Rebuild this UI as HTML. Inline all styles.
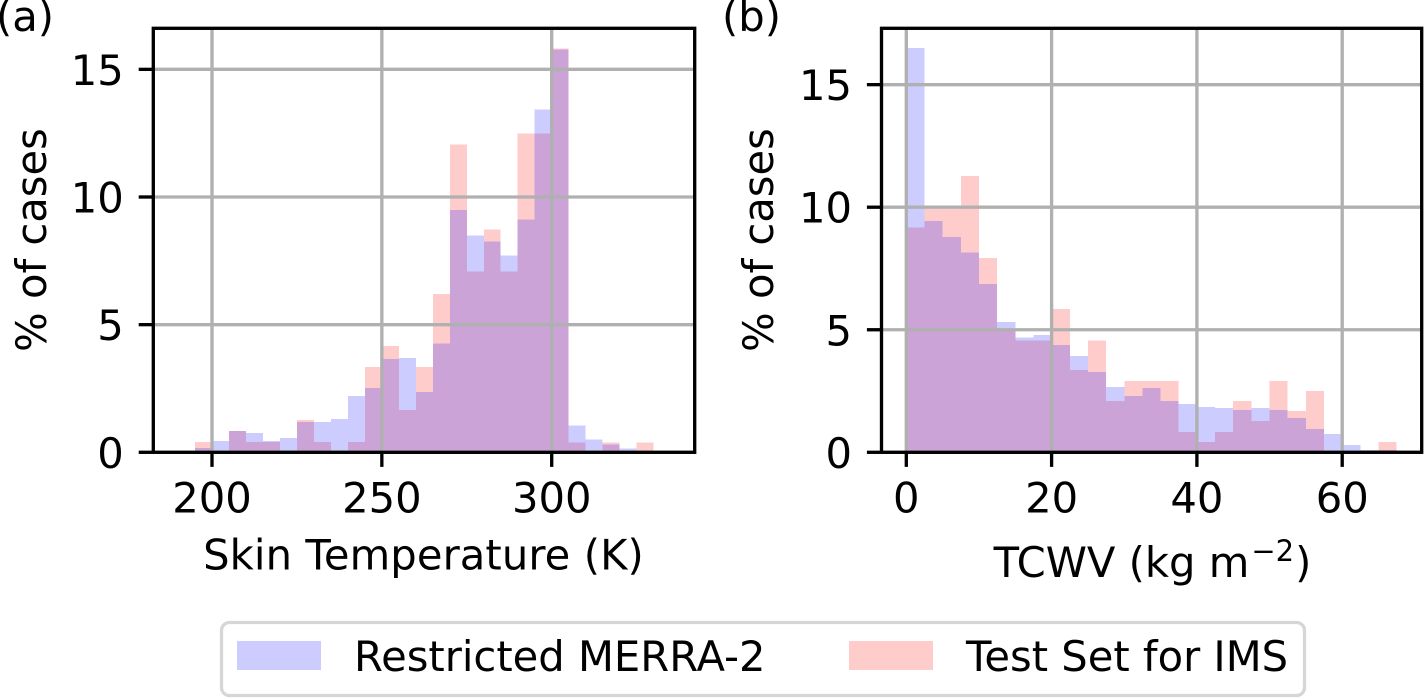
<!DOCTYPE html>
<html lang="en">
<head>
<meta charset="utf-8">
<title>Histograms of skin temperature and TCWV</title>
<style>
html,body{margin:0;padding:0;background:#fff;width:1424px;height:699px;overflow:hidden}
svg{display:block}
text{font-family:"DejaVu Sans","Liberation Sans",sans-serif;font-size:41.67px;fill:#000}
</style>
</head>
<body>
<svg id="chart" xmlns="http://www.w3.org/2000/svg" width="1424" height="699" viewBox="0 0 1424 699">
  <g id="panel-a"></g>
  <g id="panel-b"></g>
  <text x="-4" y="31">(a)</text>
  <text x="722" y="31">(b)</text>
  <text x="423.5" y="569.5" text-anchor="middle" letter-spacing="0.1">Skin Temperature (K)</text>
  <text x="1152.5" y="577" text-anchor="middle">TCWV (kg m<tspan dx="2" dy="-16" font-size="29">−2</tspan><tspan dx="1" dy="16">)</tspan></text>
  <text transform="translate(46,240) rotate(-90)" text-anchor="middle">% of cases</text>
  <text transform="translate(773,240) rotate(-90)" text-anchor="middle">% of cases</text>
  <g>
    <rect x="221.5" y="622.5" width="1083" height="73" rx="8" ry="8" fill="#fff" stroke="#d6d6d6" stroke-width="3.3"/>
    <rect x="237" y="641" width="84" height="29" fill="#ccccff"/>
    <text x="354" y="671">Restricted MERRA-2</text>
    <rect x="849" y="641" width="84" height="29" fill="#ffcccc"/>
    <text x="966" y="671">Test Set for IMS</text>
  </g>
</svg>
<script>
// Panel (a): skin temperature, % of cases per 5 K bin
const skinBinStart = 195;
const skinBinWidth = 5;
const skinMerra = [0.17,0.44,0.84,0.76,0.44,0.56,1.19,1.19,1.31,2.21,2.52,3.66,3.69,2.36,4.26,9.50,8.49,8.25,7.70,9.11,13.42,15.77,1.04,0.50,0.30,0.14,0];
const skinTest = [0.40,0,0.84,0.40,0.40,0,1.27,0.40,0,0.40,3.34,4.16,1.66,3.34,6.21,12.05,7.08,8.72,7.08,12.48,12.48,15.81,0.38,0,0.38,0,0.38];
const skinXTicks = [200,250,300];
const skinYTicks = [0,5,10,15];

// Panel (b): TCWV, % of cases per 2.5 kg m-2 bin
const tcwvBinStart = 0;
const tcwvBinWidth = 2.5;
const tcwvMerra = [16.49,9.43,8.78,8.16,6.86,5.31,4.69,4.78,4.37,3.92,3.27,2.67,2.30,2.63,2.10,1.97,1.85,1.81,1.73,1.81,1.73,1.40,0.95,0.75,0.30,0.10,0.10];
const tcwvTest = [9.18,9.92,9.92,11.27,7.92,4.98,4.57,4.57,5.84,3.35,4.57,2.10,2.91,2.91,2.91,0.83,0.42,0.83,2.10,1.28,2.91,1.69,2.50,0,0,0,0.42];
const tcwvXTicks = [0,20,40,60];
const tcwvYTicks = [0,5,10,15];

const NS = 'http://www.w3.org/2000/svg';
const frameTop = 28.3;
const frameBottom = 452.3;

function makeEl(tag, parent, attrs) {
  const el = document.createElementNS(NS, tag);
  for (const key in attrs) el.setAttribute(key, attrs[key]);
  parent.appendChild(el);
  return el;
}

function drawPanel(cfg) {
  const root = document.getElementById(cfg.id);
  const xScale = v => cfg.x0 + (v - cfg.v0) * cfg.xk;
  const yScale = v => frameBottom - v * cfg.yk;

  const drawBars = (values, color, label) => {
    const group = makeEl('g', root, {fill: color, 'shape-rendering': 'crispEdges'});
    
    
    values.forEach((v, i) => {
      if (v <= 0) return;
      const left = xScale(cfg.binStart + cfg.binWidth * i);
      const right = xScale(cfg.binStart + cfg.binWidth * (i + 1));
      const bar = makeEl('rect', group, {x: left, y: yScale(v), width: right - left, height: frameBottom - yScale(v)});
      
      
    });
  };
  drawBars(cfg.test, '#ff0000', 'test-set');
  root.lastChild.setAttribute('fill-opacity', '0.2');
  drawBars(cfg.merra, '#0000ff', 'restricted-merra-2');
  root.lastChild.setAttribute('fill-opacity', '0.2');

  cfg.xTicks.forEach(t => {
    const px = xScale(t);
    const grid = makeEl('line', root, {x1: px, x2: px, y1: frameTop, y2: frameBottom, stroke: '#b0b0b0', 'stroke-width': 3.33});
    
    
    const tick = makeEl('line', root, {x1: px, x2: px, y1: frameBottom, y2: frameBottom + 14.6, stroke: '#000', 'stroke-width': 3.33});
    
    
    const label = makeEl('text', root, {x: px, y: 512.5, 'text-anchor': 'middle'});
    
    
    label.textContent = t;
  });

  cfg.yTicks.forEach(t => {
    const py = yScale(t);
    const grid = makeEl('line', root, {x1: cfg.left, x2: cfg.right, y1: py, y2: py, stroke: '#b0b0b0', 'stroke-width': 3.33});
    
    
    const tick = makeEl('line', root, {x1: cfg.left - 14.6, x2: cfg.left, y1: py, y2: py, stroke: '#000', 'stroke-width': 3.33});
    
    
    const label = makeEl('text', root, {x: cfg.left - 29.5, y: py + 15.5, 'text-anchor': 'end'});
    
    
    label.textContent = t;
  });

  const frame = makeEl('rect', root, {x: cfg.left, y: frameTop, width: cfg.right - cfg.left, height: frameBottom - frameTop, fill: 'none', stroke: '#000', 'stroke-width': 3.33});
  
  
}

drawPanel({id: 'panel-a', left: 153.3, right: 694.7, x0: 212, v0: 200, xk: 3.397, yk: 25.53,
  binStart: skinBinStart, binWidth: skinBinWidth, merra: skinMerra, test: skinTest,
  xTicks: skinXTicks, yTicks: skinYTicks});
drawPanel({id: 'panel-b', left: 881.5, right: 1421.7, x0: 906.3, v0: 0, xk: 7.265, yk: 24.51,
  binStart: tcwvBinStart, binWidth: tcwvBinWidth, merra: tcwvMerra, test: tcwvTest,
  xTicks: tcwvXTicks, yTicks: tcwvYTicks});
</script>
</body>
</html>
